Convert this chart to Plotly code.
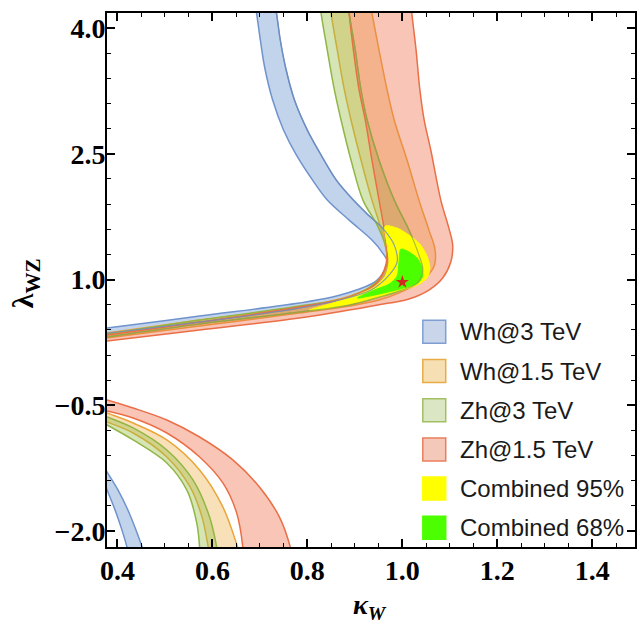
import plotly.graph_objects as go

# ---------------- data (kappa_W, lambda_WZ) ----------------
# Wh@3 TeV  (upper branch: inner / outer edge ; lower-left branch: upper / lower edge)
wh3_in_k = [0.689, 0.693, 0.701, 0.710, 0.727, 0.750, 0.777, 0.811, 0.842, 0.888, 0.936, 0.957, 0.968, 0.947, 0.903, 0.853, 0.783, 0.573, 0.378, 0.36]
wh3_in_l = [4.30, 4.176, 3.855, 3.533, 3.139, 2.782, 2.484, 2.186, 1.948, 1.709, 1.471, 1.328, 1.209, 0.994, 0.875, 0.791, 0.720, 0.565, 0.422, 0.41]
wh3_out_k = [0.731, 0.735, 0.743, 0.754, 0.773, 0.800, 0.829, 0.861, 0.897, 0.924, 0.962, 0.983, 0.989, 0.972, 0.934, 0.867, 0.783, 0.573, 0.378, 0.36]
wh3_out_l = [4.30, 4.176, 3.855, 3.533, 3.139, 2.782, 2.484, 2.186, 1.948, 1.793, 1.590, 1.411, 1.209, 1.054, 0.875, 0.756, 0.660, 0.493, 0.362, 0.35]
wh3_lo_a_k = [0.36, 0.378, 0.401, 0.422, 0.439, 0.452, 0.458]
wh3_lo_a_l = [-1.12, -1.294, -1.509, -1.748, -1.986, -2.189, -2.30]
wh3_lo_b_k = [0.36, 0.378, 0.395, 0.408, 0.420, 0.424]
wh3_lo_b_l = [-1.27, -1.509, -1.748, -1.962, -2.189, -2.30]

# Wh@1.5 TeV
wh15_in_k = [0.848, 0.850, 0.863, 0.878, 0.892, 0.913, 0.936, 0.953, 0.964, 0.968, 0.957, 0.941, 0.888, 0.783, 0.573, 0.378, 0.36]
wh15_in_l = [4.30, 4.176, 3.735, 3.259, 2.901, 2.424, 1.948, 1.650, 1.411, 1.209, 1.054, 0.934, 0.803, 0.672, 0.517, 0.362, 0.35]
wh15_out_k = [0.932, 0.936, 0.951, 0.968, 0.983, 1.010, 1.035, 1.056, 1.069, 1.067, 1.043, 0.997, 0.951, 0.888, 0.783, 0.573, 0.378, 0.36]
wh15_out_l = [4.30, 4.176, 3.735, 3.259, 2.901, 2.424, 1.948, 1.590, 1.352, 1.161, 0.994, 0.851, 0.756, 0.684, 0.601, 0.446, 0.303, 0.29]
wh15_lo_a_k = [0.36, 0.378, 0.433, 0.504, 0.573, 0.622, 0.653, 0.659]
wh15_lo_a_l = [-0.55, -0.591, -0.711, -0.913, -1.271, -1.712, -2.189, -2.30]
wh15_lo_b_k = [0.36, 0.378, 0.433, 0.504, 0.553, 0.578, 0.591, 0.594]
wh15_lo_b_l = [-0.66, -0.699, -0.830, -1.116, -1.474, -1.831, -2.189, -2.30]

# Zh@3 TeV
zh3_in_k = [0.827, 0.829, 0.842, 0.857, 0.871, 0.892, 0.917, 0.947, 0.964, 0.968, 0.957, 0.943, 0.888, 0.783, 0.573, 0.378, 0.36]
zh3_in_l = [4.30, 4.176, 3.735, 3.259, 2.901, 2.424, 1.948, 1.650, 1.411, 1.209, 1.054, 0.958, 0.791, 0.684, 0.517, 0.350, 0.34]
zh3_out_k = [0.886, 0.888, 0.901, 0.913, 0.926, 0.951, 0.983, 1.014, 1.035, 1.043, 1.031, 0.993, 0.951, 0.888, 0.783, 0.573, 0.378, 0.36]
zh3_out_l = [4.30, 4.176, 3.735, 3.259, 2.901, 2.424, 1.948, 1.590, 1.292, 1.113, 0.958, 0.863, 0.791, 0.696, 0.613, 0.470, 0.315, 0.30]
zh3_lo_a_k = [0.36, 0.378, 0.433, 0.504, 0.559, 0.594, 0.609, 0.612]
zh3_lo_a_l = [-0.60, -0.639, -0.770, -1.033, -1.390, -1.831, -2.189, -2.30]
zh3_lo_b_k = [0.36, 0.378, 0.433, 0.504, 0.546, 0.567, 0.573, 0.574]
zh3_lo_b_l = [-0.68, -0.734, -0.913, -1.187, -1.509, -1.902, -2.189, -2.30]

# Zh@1.5 TeV
zh15_in_k = [0.886, 0.888, 0.897, 0.909, 0.922, 0.936, 0.951, 0.962, 0.968, 0.962, 0.941, 0.888, 0.783, 0.573, 0.378, 0.36]
zh15_in_l = [4.30, 4.176, 3.735, 3.259, 2.901, 2.424, 1.948, 1.590, 1.292, 1.113, 0.934, 0.791, 0.672, 0.493, 0.339, 0.33]
zh15_out_k = [1.018, 1.020, 1.029, 1.037, 1.046, 1.060, 1.081, 1.098, 1.106, 1.102, 1.085, 1.056, 1.014, 0.972, 0.888, 0.783, 0.573, 0.378, 0.36]
zh15_out_l = [4.30, 4.176, 3.735, 3.259, 2.901, 2.543, 1.948, 1.614, 1.411, 1.209, 1.018, 0.875, 0.768, 0.720, 0.636, 0.541, 0.398, 0.267, 0.255]
zh15_lo_a_k = [0.36, 0.378, 0.433, 0.504, 0.573, 0.643, 0.699, 0.741, 0.764, 0.768]
zh15_lo_a_l = [-0.41, -0.436, -0.532, -0.675, -0.878, -1.151, -1.474, -1.831, -2.189, -2.30]
zh15_lo_b_k = [0.36, 0.378, 0.433, 0.504, 0.573, 0.622, 0.651, 0.664, 0.665]
zh15_lo_b_l = [-0.55, -0.567, -0.651, -0.830, -1.116, -1.426, -1.783, -2.189, -2.30]

# Combined regions
comb95_k = [0.964, 0.989, 1.014, 1.037, 1.052, 1.058, 1.052, 1.031, 0.993, 0.951, 0.899, 0.846, 0.804, 0.846, 0.899, 0.941, 0.964, 0.972, 0.968]
comb95_l = [1.638, 1.614, 1.530, 1.423, 1.280, 1.137, 1.018, 0.934, 0.863, 0.791, 0.720, 0.660, 0.636, 0.708, 0.803, 0.911, 1.042, 1.209, 1.411]
comb68_k = [0.997, 1.014, 1.031, 1.041, 1.043, 1.033, 1.010, 0.978, 0.941, 0.905, 0.941, 0.972, 0.989, 0.993]
comb68_l = [1.364, 1.328, 1.256, 1.149, 1.042, 0.958, 0.911, 0.863, 0.815, 0.780, 0.875, 0.946, 1.042, 1.209]

best_k = [1.0]
best_l = [0.97]

x_tickvals = [0.4, 0.6, 0.8, 1.0, 1.2, 1.4]
x_ticktext = ["0.4", "0.6", "0.8", "1.0", "1.2", "1.4"]
y_tickvals = [-2.0, -0.5, 1.0, 2.5, 4.0]
y_ticktext = ["\u22122.0", "\u22120.5", "1.0", "2.5", "4.0"]

legend_labels = ["Wh@3 TeV", "Wh@1.5 TeV", "Zh@3 TeV", "Zh@1.5 TeV", "Combined 95%", "Combined 68%"]

# ---------------- styling ----------------
band_styles = {
    "wh3": ("rgba(110,150,210,0.42)", "#6f93cc"),
    "wh15": ("rgba(238,180,80,0.40)", "#e9a53a"),
    "zh3": ("rgba(150,190,70,0.40)", "#92b545"),
    "zh15": ("rgba(238,110,75,0.40)", "#ea6f46"),
}
legend_swatch = [
    ("#c9d5ea", "#7f9fd2"),
    ("#f6dfb3", "#e9ab47"),
    ("#dbe7c4", "#a2bf62"),
    ("#f4c9b9", "#ea7d5c"),
    ("#ffff00", "#ffff00"),
    ("#4cff00", "#4cff00"),
]

fig = go.Figure()


def add_poly(k1, l1, k2, l2, fill, line, smooth=1.0):
    xs = list(k1) + list(k2)[::-1] + [k1[0]]
    ys = list(l1) + list(l2)[::-1] + [l1[0]]
    fig.add_trace(go.Scatter(
        x=xs, y=ys, mode="lines", fill="toself", fillcolor=fill,
        line=dict(color=line, width=1.5, shape="spline", smoothing=smooth),
        hoverinfo="skip", showlegend=False))


for key, (a_k, a_l, b_k, b_l, c_k, c_l, d_k, d_l) in [
    ("wh3", (wh3_in_k, wh3_in_l, wh3_out_k, wh3_out_l, wh3_lo_a_k, wh3_lo_a_l, wh3_lo_b_k, wh3_lo_b_l)),
    ("wh15", (wh15_in_k, wh15_in_l, wh15_out_k, wh15_out_l, wh15_lo_a_k, wh15_lo_a_l, wh15_lo_b_k, wh15_lo_b_l)),
    ("zh3", (zh3_in_k, zh3_in_l, zh3_out_k, zh3_out_l, zh3_lo_a_k, zh3_lo_a_l, zh3_lo_b_k, zh3_lo_b_l)),
    ("zh15", (zh15_in_k, zh15_in_l, zh15_out_k, zh15_out_l, zh15_lo_a_k, zh15_lo_a_l, zh15_lo_b_k, zh15_lo_b_l)),
]:
    fill, line = band_styles[key]
    add_poly(a_k, a_l, b_k, b_l, fill, line)
    add_poly(c_k, c_l, d_k, d_l, fill, line)

# combined regions
fig.add_trace(go.Scatter(x=comb95_k + [comb95_k[0]], y=comb95_l + [comb95_l[0]], mode="lines",
                         fill="toself", fillcolor="#ffff00",
                         line=dict(color="#ffff00", width=1, shape="spline", smoothing=0.8),
                         hoverinfo="skip", showlegend=False))
fig.add_trace(go.Scatter(x=comb68_k + [comb68_k[0]], y=comb68_l + [comb68_l[0]], mode="lines",
                         fill="toself", fillcolor="#4cff00",
                         line=dict(color="#4cff00", width=1, shape="spline", smoothing=0.8),
                         hoverinfo="skip", showlegend=False))

# band edges re-drawn faintly across the combined regions
for (k, l, c) in [(wh3_out_k, wh3_out_l, "rgba(110,140,190,0.8)"),
                  (zh3_out_k, zh3_out_l, "rgba(140,170,70,0.8)")]:
    fig.add_trace(go.Scatter(x=k, y=l, mode="lines",
                             line=dict(color=c, width=1.2, shape="spline", smoothing=1.0),
                             hoverinfo="skip", showlegend=False))

fig.add_trace(go.Scatter(x=best_k, y=best_l, mode="markers",
                         marker=dict(symbol="star", size=10, color="#d42a1e"),
                         hoverinfo="skip", showlegend=False))

# ---------------- manual legend ----------------
row_y = [331.7, 371.0, 410.2, 449.4, 488.6, 527.8]  # pixel rows in the reference
plot_top, plot_bot, plot_left, plot_right = 13, 547, 107, 637
pw, ph = plot_right - plot_left, plot_bot - plot_top
for i, lab in enumerate(legend_labels):
    cy = (plot_bot - row_y[i]) / ph
    h = 11.5 / ph
    x0 = (424 - plot_left) / pw
    x1 = (447 - plot_left) / pw
    fc, lc = legend_swatch[i]
    fig.add_shape(type="rect", xref="paper", yref="paper", x0=x0, x1=x1, y0=cy - h, y1=cy + h,
                  fillcolor=fc, line=dict(color=lc, width=1.5))
    fig.add_annotation(x=(459 - plot_left) / pw, y=cy, xref="paper", yref="paper",
                       text=lab, showarrow=False, xanchor="left", yanchor="middle",
                       font=dict(family="Liberation Sans", size=24, color="#1a1a1a"))

# axis titles
fig.add_annotation(x=(371 - plot_left) / pw, y=(plot_bot - 606) / ph, xref="paper", yref="paper",
                   text="<b><i>κ</i></b><sub><b><i>W</i></b></sub>", showarrow=False,
                   xanchor="center", yanchor="middle",
                   font=dict(family="Liberation Serif", size=28, color="black"))
fig.add_annotation(x=(25 - plot_left) / pw, y=(plot_bot - 283) / ph, xref="paper", yref="paper",
                   text="<b>λ</b><sub><b>WZ</b></sub>", showarrow=False, textangle=-90,
                   xanchor="center", yanchor="middle",
                   font=dict(family="Liberation Serif", size=30, color="black"))

axis_common = dict(showline=True, linecolor="black", linewidth=2, mirror="ticks",
                   ticks="inside", ticklen=8, tickwidth=1.5, tickcolor="black",
                   showgrid=False, zeroline=False,
                   tickfont=dict(family="Liberation Serif", size=28, color="black"))

fig.update_xaxes(range=[0.378, 1.490], tickmode="array", tickvals=x_tickvals,
                 ticktext=["<b>" + t + "</b>" for t in x_ticktext],
                 minor=dict(dtick=0.05, tick0=0.4, ticks="inside", ticklen=4, tickwidth=1.2, tickcolor="black"),
                 ticklabelstandoff=-3, **axis_common)
fig.update_yaxes(range=[-2.19, 4.18], tickmode="array", tickvals=y_tickvals,
                 ticktext=["<b>" + t + "</b>" for t in y_ticktext],
                 minor=dict(dtick=0.3, tick0=1.0, ticks="inside", ticklen=4, tickwidth=1.2, tickcolor="black"),
                 ticklabelstandoff=-6, **axis_common)

fig.update_layout(width=643, height=627, margin=dict(l=107, r=6, t=13, b=80),
                  plot_bgcolor="white", paper_bgcolor="white", showlegend=False)

fig.write_html("out.html")
